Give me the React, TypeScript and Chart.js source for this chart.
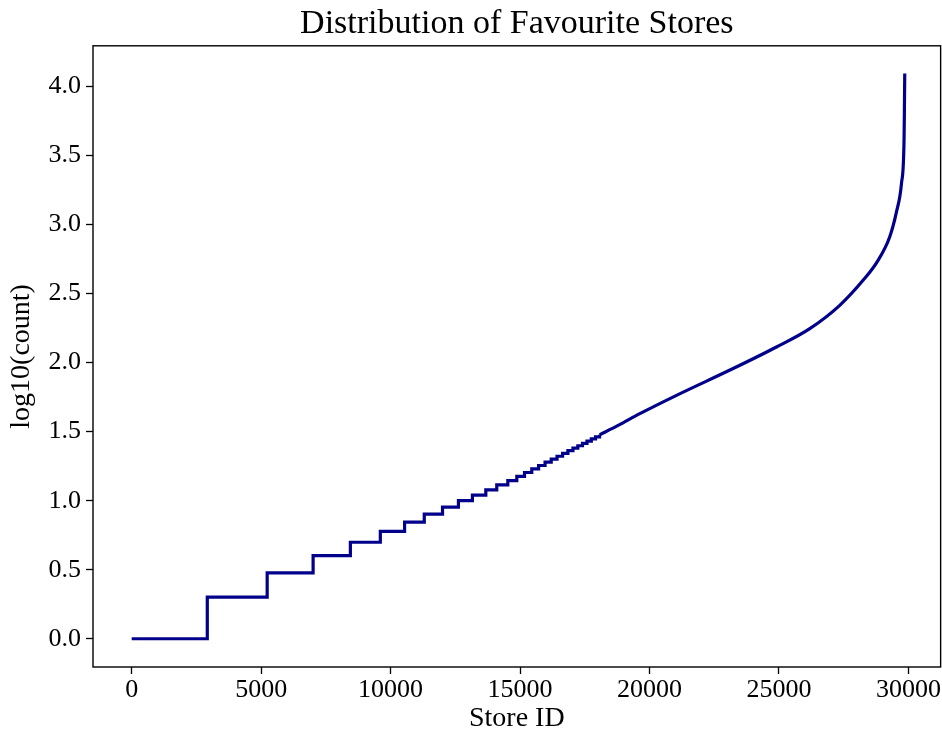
import React, { useEffect, useRef } from "react";
import { Chart, registerables } from "chart.js";

Chart.register(...registerables);

// Store index at which each integer count is first reached (counts 1..30),
// with the matching log10(count) level of each stair.
const stepStoreIds = [
  0, 2920, 5233, 7007, 8446, 9603, 10540, 11300, 12005, 12620, 13160, 13677,
  14100, 14527, 14874, 15172, 15452, 15716, 15966, 16203, 16428, 16642, 16847,
  17043, 17231, 17411, 17584, 17752, 17914, 18070,
];
const stepLogCounts = [
  0, 0.301, 0.477, 0.602, 0.699, 0.778, 0.845, 0.903, 0.954, 1.0, 1.041, 1.079,
  1.114, 1.146, 1.176, 1.204, 1.23, 1.255, 1.279, 1.301, 1.322, 1.342, 1.362,
  1.38, 1.398, 1.415, 1.431, 1.447, 1.462, 1.477,
];

// Upper part of the sorted counts, where the stairs merge into a curve.
const curveStoreIds = [
  18070, 18788, 19625, 21042, 23228, 24903, 26189, 27347, 28247, 28790, 29275,
  29535, 29730, 29830, 29845, 29857,
];
const curveLogCounts = [
  1.477, 1.545, 1.63, 1.763, 1.957, 2.113, 2.246, 2.415, 2.596, 2.73, 2.91,
  3.09, 3.297, 3.611, 3.852, 4.094,
];

const xTickValues = [0, 5000, 10000, 15000, 20000, 25000, 30000];
const yTickValues = [0, 0.5, 1.0, 1.5, 2.0, 2.5, 3.0, 3.5, 4.0];

const TITLE = "Distribution of Favourite Stores";
const X_LABEL = "Store ID";
const Y_LABEL = "log10(count)";

const LINE_COLOR = "#00008b";
const SERIF = "'Liberation Serif', 'DejaVu Serif', serif";

const framePlugin = {
  id: "frame",
  afterDraw(chart: any) {
    const { ctx, chartArea } = chart;
    ctx.save();
    ctx.strokeStyle = "#000";
    ctx.lineWidth = 1.4;
    ctx.strokeRect(
      chartArea.left,
      chartArea.top,
      chartArea.right - chartArea.left,
      chartArea.bottom - chartArea.top
    );
    ctx.restore();
  },
};

export default function App() {
  const canvasRef = useRef<HTMLCanvasElement | null>(null);

  useEffect(() => {
    const canvas = canvasRef.current;
    if (!canvas) return;

    const stepData = stepStoreIds.map((x, i) => ({ x, y: stepLogCounts[i] }));
    const curveData = curveStoreIds.map((x, i) => ({ x, y: curveLogCounts[i] }));

    const tickGrid = {
      drawOnChartArea: false,
      drawTicks: true,
      tickLength: 7,
      tickColor: "#000",
      tickWidth: 1.3,
    };

    const chart = new Chart(canvas, {
      type: "line",
      data: {
        datasets: [
          {
            data: stepData,
            borderColor: LINE_COLOR,
            borderWidth: 3.2,
            pointRadius: 0,
            stepped: "before",
            fill: false,
          },
          {
            data: curveData,
            borderColor: LINE_COLOR,
            borderWidth: 3.2,
            pointRadius: 0,
            cubicInterpolationMode: "monotone",
            fill: false,
          },
        ],
      },
      options: {
        responsive: false,
        animation: false,
        devicePixelRatio: 1,
        layout: { padding: { left: 0, right: 1, top: 0, bottom: 0 } },
        plugins: {
          legend: { display: false },
          tooltip: { enabled: false },
          title: {
            display: true,
            fullSize: false,
            text: TITLE,
            color: "#000",
            font: { family: SERIF, size: 34, weight: "normal" },
            padding: { top: 4, bottom: 1 },
          },
        },
        scales: {
          x: {
            type: "linear",
            min: -1494,
            max: 31243,
            afterBuildTicks: (scale: any) => {
              scale.ticks = xTickValues.map((v) => ({ value: v }));
            },
            afterFit: (scale: any) => {
              scale.height = 68;
            },
            ticks: {
              color: "#000",
              font: { family: SERIF, size: 26 },
              padding: 1,
              maxRotation: 0,
              autoSkip: false,
              callback: (v: any) => String(v),
            },
            grid: tickGrid,
            border: { display: false },
            title: {
              display: true,
              text: X_LABEL,
              color: "#000",
              font: { family: SERIF, size: 28 },
              padding: { top: 0, bottom: 0 },
            },
          },
          y: {
            type: "linear",
            min: -0.2045,
            max: 4.2945,
            afterBuildTicks: (scale: any) => {
              scale.ticks = yTickValues.map((v) => ({ value: v }));
            },
            afterFit: (scale: any) => {
              scale.width = 93;
            },
            ticks: {
              color: "#000",
              font: { family: SERIF, size: 26 },
              padding: 5,
              autoSkip: false,
              callback: (v: any) => Number(v).toFixed(1),
            },
            grid: tickGrid,
            border: { display: false },
            title: {
              display: true,
              text: Y_LABEL,
              color: "#000",
              font: { family: SERIF, size: 28 },
              padding: { top: 5, bottom: 0 },
            },
          },
        },
      },
      plugins: [framePlugin],
    } as any);

    return () => {
      chart.destroy();
    };
  }, []);

  return (
    <div
      style={{
        position: "absolute",
        left: 0,
        top: 0,
        width: 942,
        height: 735,
        background: "#fff",
      }}
    >
      <canvas
        ref={canvasRef}
        width={942}
        height={735}
        style={{ display: "block", width: 942, height: 735 }}
      />
    </div>
  );
}
